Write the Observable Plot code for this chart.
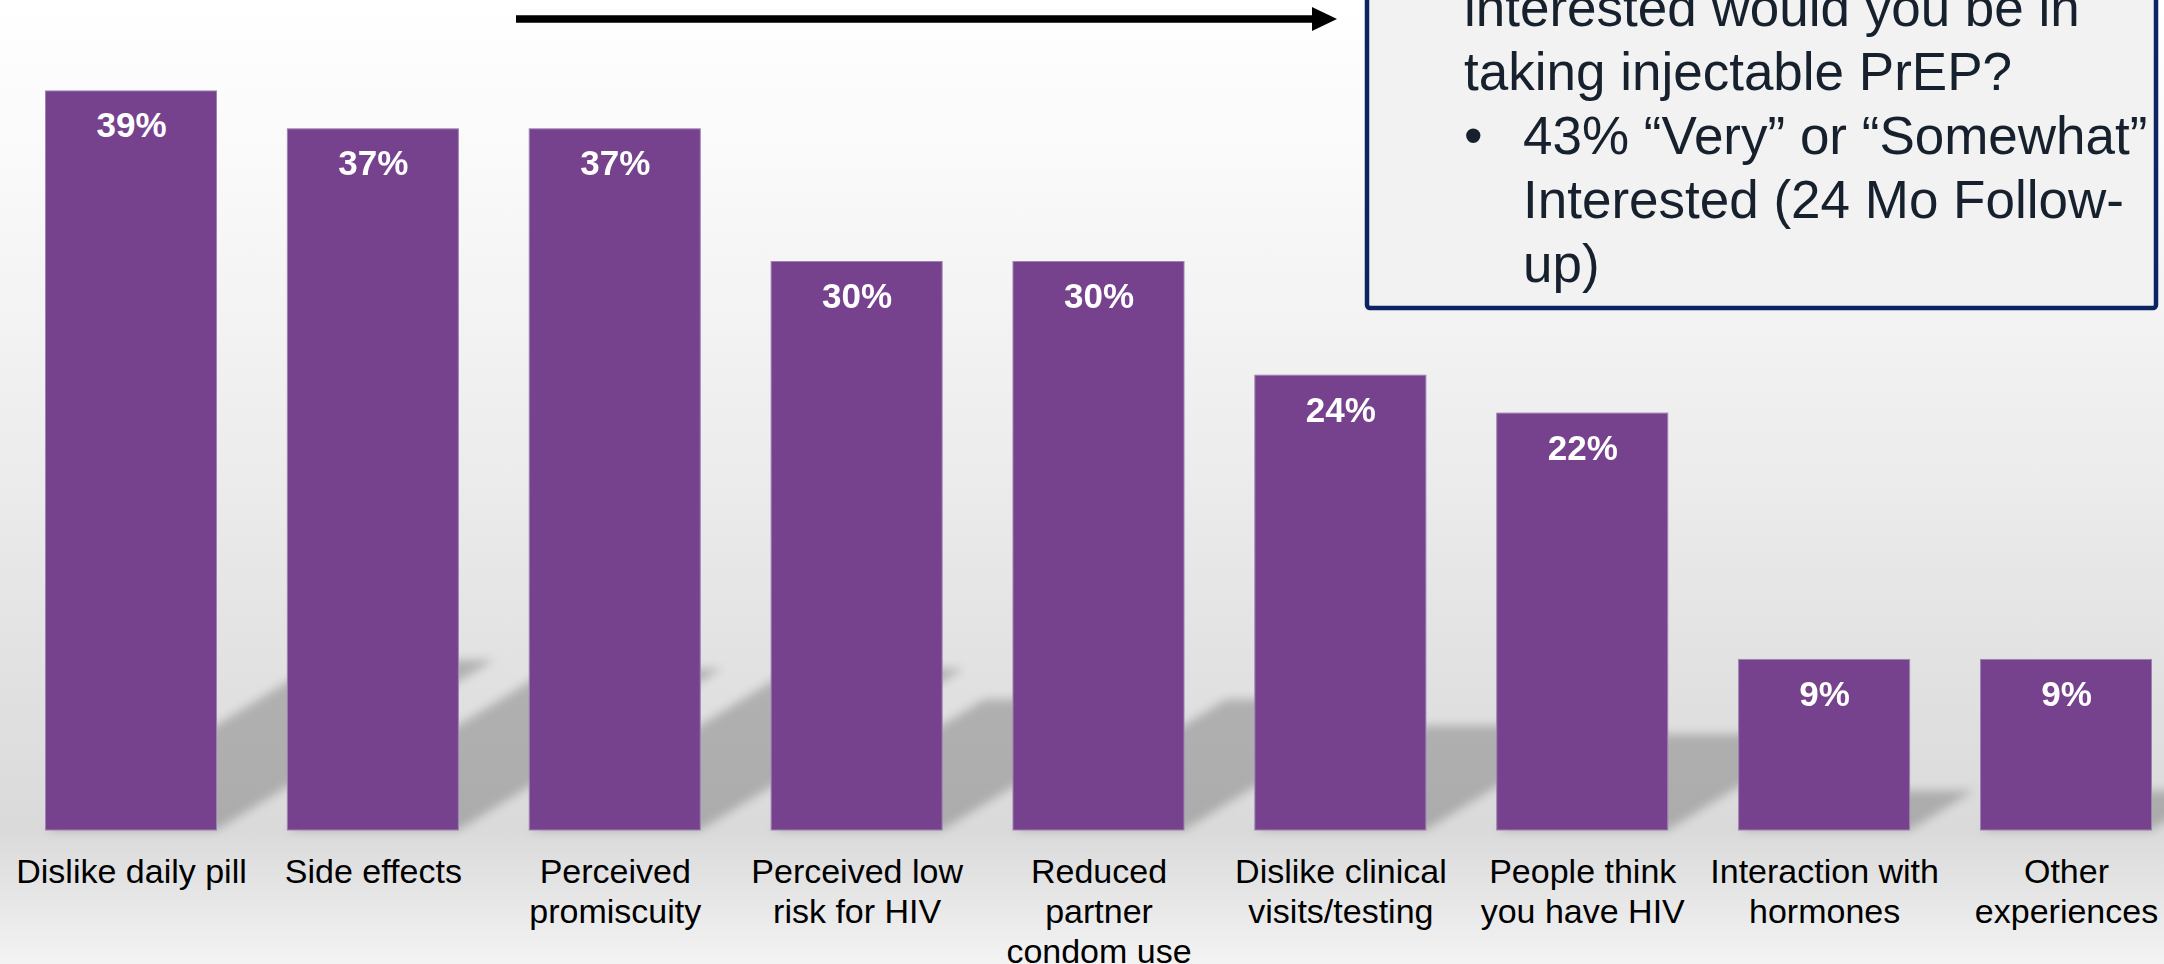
<!DOCTYPE html>
<html>
<head>
<meta charset="utf-8">
<script src="https://cdn.jsdelivr.net/npm/d3@7"></script>
<script src="https://cdn.jsdelivr.net/npm/@observablehq/plot@0.6"></script>
<style>
  html, body { margin: 0; padding: 0; }
  #slide {
    position: relative;
    width: 2164px;
    height: 964px;
    overflow: hidden;
    font-family: "Liberation Sans", Arial, sans-serif;
    background: linear-gradient(to bottom,
      #ffffff 0px, #f8f8f8 200px, #ededed 450px, #e0e0e0 700px,
      #dadada 830px, #e3e3e3 880px, #f3f3f3 964px);
  }
  #chart, #note { position: absolute; left: 0; top: 0; }
</style>
</head>
<body>
<div id="slide">
  <div id="chart"></div>
  <svg id="note" width="2164" height="964" xmlns="http://www.w3.org/2000/svg"></svg>
</div>
<script>
// Reasons for not wanting daily oral PrEP (share of respondents, %)
const categories = [
  "Dislike daily pill",
  "Side effects",
  "Perceived\npromiscuity",
  "Perceived low\nrisk for HIV",
  "Reduced\npartner\ncondom use",
  "Dislike clinical\nvisits/testing",
  "People think\nyou have HIV",
  "Interaction with\nhormones",
  "Other\nexperiences"
];
const shares = [39, 37, 37, 30, 30, 24, 22, 9, 9];

// Call-out text
const noteLines = [
  "interested would you be in",
  "taking injectable PrEP?"
];
const noteBullet = [
  "43% \u201CVery\u201D or \u201CSomewhat\u201D",
  "Interested (24 Mo Follow-",
  "up)"
];

const rows = categories.map((c, i) => ({category: c, share: shares[i]}));

const FONT = "Liberation Sans, Arial, sans-serif";
const PURPLE = "#76418d";

const chart = Plot.plot({
  width: 2164,
  height: 964,
  marginTop: 72,
  marginBottom: 134,
  marginLeft: 45.5,
  marginRight: 12.5,
  style: {background: "transparent", fontFamily: FONT, color: "#000", overflow: "visible"},
  x: {domain: categories, paddingInner: 0.293, paddingOuter: 0, round: false, label: null},
  y: {domain: [0, 40], axis: null},
  marks: [
    // cast shadows (skewed afterwards)
    Plot.barY(rows, {x: "category", y: "share", fill: "#000", fillOpacity: 0.21, ariaDescription: "shadow"}),
    Plot.barY(rows, {x: "category", y: "share", fill: PURPLE, stroke: "#9e84b2", strokeWidth: 1, ariaDescription: "bars"}),
    Plot.text(rows, {
      x: "category", y: "share",
      text: d => `${d.share}%`,
      lineAnchor: "bottom", dy: 46,
      fill: "#ffffff", fontSize: 35, fontWeight: "bold"
    }),
    Plot.axisX({
      tickSize: 0, tickPadding: 24, fontSize: 34, lineHeight: 1.18,
      label: null, fill: "#000"
    })
  ]
});
document.getElementById("chart").append(chart);

// Perspective shadow: squash each shadow bar and lean it to the right
const svg = d3.select(chart);
const defs = svg.insert("defs", ":first-child");
defs.append("filter")
  .attr("id", "soft-shadow")
  .attr("filterUnits", "userSpaceOnUse")
  .attr("x", 0).attr("y", 0).attr("width", 2164).attr("height", 964)
  .append("feGaussianBlur").attr("stdDeviation", 5);
let shadowGroup = svg.select('g[aria-description="shadow"]');
if (shadowGroup.empty()) shadowGroup = svg.select('g[aria-label="bar"]');
shadowGroup.attr("filter", "url(#soft-shadow)");
shadowGroup.selectAll("rect").each(function () {
  const y = +this.getAttribute("y");
  const h = +this.getAttribute("height");
  const y0 = y + h;
  this.setAttribute("transform",
    `translate(0,${y0}) matrix(1,0,-0.375,0.23,0,0) translate(0,${-y0})`);
});

// Arrow and call-out box
const note = d3.select("#note");
note.append("line")
  .attr("x1", 516).attr("y1", 19).attr("x2", 1316).attr("y2", 19)
  .attr("stroke", "#000").attr("stroke-width", 7.5);
note.append("polygon")
  .attr("points", "1312,7 1337,19 1312,31")
  .attr("fill", "#000");
note.append("rect")
  .attr("x", 1367).attr("y", -20).attr("width", 789).attr("height", 328)
  .attr("rx", 3)
  .attr("fill", "#f2f2f2").attr("stroke", "#0c2462").attr("stroke-width", 4.5);

const noteText = note.append("g")
  .attr("font-family", FONT).attr("font-size", 53).attr("fill", "#17212d");
noteLines.forEach((t, i) => {
  noteText.append("text").attr("x", 1464).attr("y", 26 + i * 64).text(t);
});
noteText.append("text").attr("x", 1464).attr("y", 154).text("\u2022");
noteBullet.forEach((t, i) => {
  noteText.append("text").attr("x", 1523).attr("y", 154 + i * 64).text(t);
});
</script>
</body>
</html>
